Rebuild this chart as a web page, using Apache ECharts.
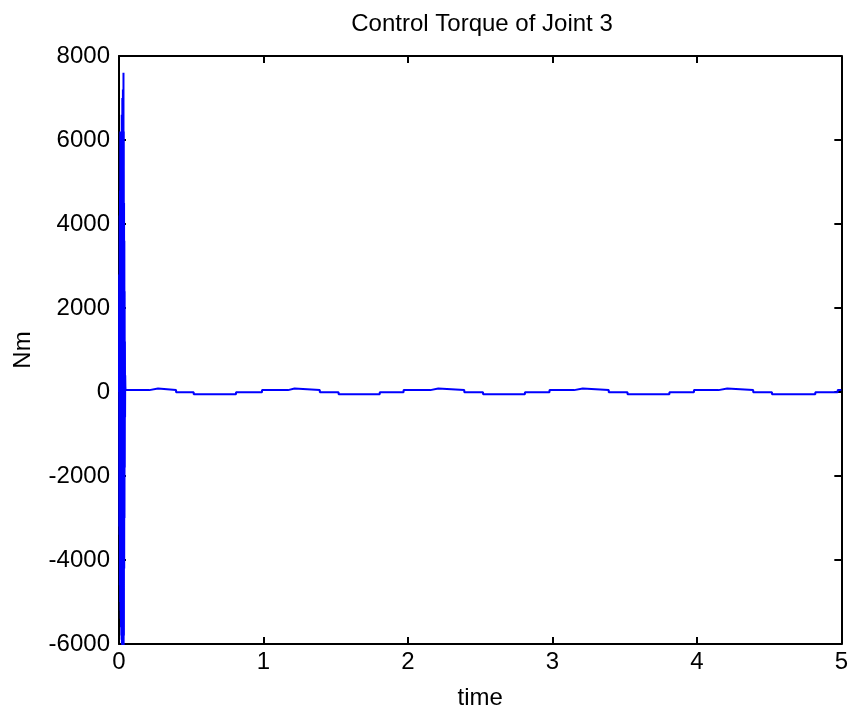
<!DOCTYPE html>
<html>
<head>
<meta charset="utf-8">
<script src="https://cdn.jsdelivr.net/npm/echarts@6/dist/echarts.min.js"></script>
<style>
  html, body { margin: 0; padding: 0; background: #fff; }
  #chart { width: 851px; height: 715px; }
</style>
</head>
<body>
<div id="chart"></div>
<script>
// start-up burst, 0 .. 0.046 s
var burstTimes = [0, 0.001, 0.002, 0.003, 0.004, 0.005, 0.006, 0.007, 0.008, 0.009,
    0.010, 0.011, 0.012, 0.013, 0.014, 0.015, 0.016, 0.017, 0.018, 0.019,
    0.020, 0.021, 0.022, 0.023, 0.024, 0.025, 0.026, 0.027, 0.028, 0.029,
    0.030, 0.031, 0.032, 0.033, 0.034, 0.035, 0.036, 0.037, 0.038, 0.039,
    0.040, 0.041, 0.042, 0.043, 0.044, 0.045, 0.046];
var burstValues = [0, 2800, -3200, 2600, -3400, 4200, -4600, 4800, -5000, 6200,
    -5200, 5800, -5400, 5600, -5600, 6000, -5800, 5400, -5900, 6600,
    -6000, 6200, -6100, 7000, -6200, 6800, -6300, 7200, -6500, 6900,
    -6600, 7600, -6400, 6200, -5800, 4500, -4200, 3600, -3000, 2400,
    -1800, 1200, -600, 400, 150, 60, 45];

// stepped part after the burst (value holds until the next time)
var stepTimes = [0.046, 0.21, 0.27, 0.395, 0.517, 0.81, 0.99,
    1.17, 1.215, 1.39, 1.52, 1.805, 1.97,
    2.155, 2.21, 2.39, 2.52, 2.81, 2.98,
    3.15, 3.21, 3.39, 3.52, 3.81, 3.98,
    4.15, 4.21, 4.39, 4.52, 4.82, 4.975, 5];
var stepValues = [45, 85, 45, -5, -55, -5, 45,
    85, 45, -5, -55, -5, 45,
    85, 45, -5, -55, -5, 45,
    85, 45, -5, -55, -5, 45,
    85, 45, -5, -55, -5, 45, 45];

var titleText = 'Control Torque of Joint 3';
var xName = 'time';
var yName = 'Nm';

var font = '"Liberation Sans", Arial, Helvetica, sans-serif';

function pairs(xs, ys) {
    return xs.map(function (x, i) { return [x, ys[i]]; });
}

// hold each value until the next time, then jump
function stairs(xs, ys) {
    var out = [];
    for (var i = 0; i < xs.length; i++) {
        if (i > 0) out.push([xs[i], ys[i - 1]]);
        out.push([xs[i], ys[i]]);
    }
    return out;
}

var chart = echarts.init(document.getElementById('chart'));

var lineStyleAxis = { color: '#000', width: 2 };

chart.setOption({
    animation: false,
    backgroundColor: '#fff',
    grid: { left: 119, right: 5, top: 56, bottom: 71 },
    graphic: [{
        type: 'text',
        x: 482,
        y: 24,
        style: {
            text: titleText,
            font: '24px ' + font,
            fill: '#000',
            textAlign: 'center',
            textVerticalAlign: 'middle'
        }
    }],
    xAxis: [
        {
            type: 'value',
            min: 0,
            max: 5,
            interval: 1,
            position: 'bottom',
            name: xName,
            nameLocation: 'middle',
            nameGap: 42,
            nameTextStyle: { fontSize: 24, fontFamily: font, color: '#000' },
            axisLine: { show: true, onZero: false, lineStyle: lineStyleAxis },
            axisTick: { show: true, inside: true, length: 7, lineStyle: lineStyleAxis },
            axisLabel: { fontSize: 24, fontFamily: font, color: '#000', margin: 6 },
            splitLine: { show: false }
        },
        {
            type: 'value',
            min: 0,
            max: 5,
            interval: 1,
            position: 'top',
            axisLine: { show: true, onZero: false, lineStyle: lineStyleAxis },
            axisTick: { show: true, inside: true, length: 7, lineStyle: lineStyleAxis },
            axisLabel: { show: false },
            splitLine: { show: false }
        }
    ],
    yAxis: [
        {
            type: 'value',
            min: -6000,
            max: 8000,
            interval: 2000,
            position: 'left',
            name: yName,
            nameLocation: 'middle',
            nameGap: 84,
            nameTextStyle: { fontSize: 24, fontFamily: font, color: '#000' },
            axisLine: { show: true, onZero: false, lineStyle: lineStyleAxis },
            axisTick: { show: true, inside: true, length: 7, lineStyle: lineStyleAxis },
            axisLabel: {
                fontSize: 24, fontFamily: font, color: '#000', margin: 9,
                formatter: function (v) { return String(v); }
            },
            splitLine: { show: false }
        },
        {
            type: 'value',
            min: -6000,
            max: 8000,
            interval: 2000,
            position: 'right',
            axisLine: { show: true, onZero: false, lineStyle: lineStyleAxis },
            axisTick: { show: true, inside: true, length: 7, lineStyle: lineStyleAxis },
            axisLabel: { show: false },
            splitLine: { show: false }
        }
    ],
    series: [
        {
            type: 'line',
            data: pairs(burstTimes, burstValues),
            showSymbol: false,
            clip: true,
            lineStyle: { color: '#0000ff', width: 2 },
            z: 1
        },
        {
            type: 'line',
            data: stairs(stepTimes, stepValues),
            showSymbol: false,
            clip: true,
            lineStyle: { color: '#0000ff', width: 2 },
            z: 1
        }
    ]
});
</script>
</body>
</html>
